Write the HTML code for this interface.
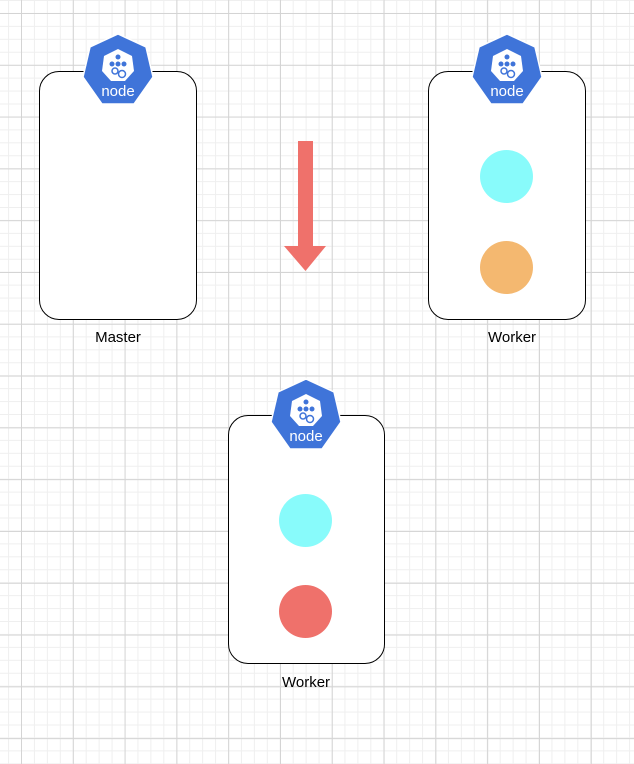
<!DOCTYPE html>
<html><head><style>
body{margin:0;width:634px;height:764px;overflow:hidden;background:#fff;font-family:"Liberation Sans",sans-serif;}
.g{position:absolute;left:0;top:0;width:634px;height:764px;
background-image:
linear-gradient(#d4d4d4 1px,transparent 1px),
linear-gradient(90deg,#d4d4d4 1px,transparent 1px),
linear-gradient(#efefef 1px,transparent 1px),
linear-gradient(90deg,#efefef 1px,transparent 1px);
background-size:51.8px 51.8px,51.8px 51.8px,12.95px 12.95px,12.95px 12.95px;
background-position:0 13px,21px 0,0 0px,21px 0;}
.box{position:absolute;border:1.5px solid #000;border-radius:20px;background:#fff;box-sizing:border-box;}
.c{position:absolute;width:53px;height:53px;border-radius:50%;}
.l{position:absolute;font-size:15px;width:100px;text-align:center;}
svg.i{position:absolute;}
</style></head><body>
<div class="g"></div>
<div class="box" style="left:39px;top:71px;width:158px;height:249px"></div>
<div class="box" style="left:428px;top:71px;width:158px;height:249px"></div>
<div class="box" style="left:228px;top:415px;width:157px;height:249px"></div>
<div class="c" style="left:480px;top:150px;background:#88fbfb"></div>
<div class="c" style="left:480px;top:241px;background:#f4b870"></div>
<div class="c" style="left:279px;top:494px;background:#88fbfb"></div>
<div class="c" style="left:279px;top:585px;background:#ef716b"></div>
<svg style="position:absolute;left:0;top:0" width="634" height="764">
<polygon points="298,141 313,141 313,246 326,246 305.5,271 284,246 298,246" fill="#ef716b"/>
</svg>
<svg class="i" style="left:81px;top:33px" width="74" height="75" viewBox="0 0 74 75">
<polygon points="37,1 65,14 72,44 53,71 21,71 2,44 9,14" fill="#3f74d9" stroke="#fff" stroke-width="1.5"/>
<polygon points="37,16 51,23 53,38 44,48 30,48 21,38 23,23" fill="#fff"/>
<circle cx="37" cy="24" r="2.5" fill="#3f74d9"/><circle cx="31" cy="31" r="2.5" fill="#3f74d9"/><circle cx="37" cy="31" r="2.5" fill="#3f74d9"/><circle cx="43" cy="31" r="2.5" fill="#3f74d9"/>
<circle cx="34" cy="38" r="3" fill="none" stroke="#3f74d9" stroke-width="1.5"/><circle cx="41" cy="41" r="3.5" fill="none" stroke="#3f74d9" stroke-width="1.5"/>
<text x="37" y="63" font-size="15" fill="#fff" text-anchor="middle" font-family="Liberation Sans">node</text>
</svg>
<svg class="i" style="left:470px;top:33px" width="74" height="75" viewBox="0 0 74 75">
<polygon points="37,1 65,14 72,44 53,71 21,71 2,44 9,14" fill="#3f74d9" stroke="#fff" stroke-width="1.5"/>
<polygon points="37,16 51,23 53,38 44,48 30,48 21,38 23,23" fill="#fff"/>
<circle cx="37" cy="24" r="2.5" fill="#3f74d9"/><circle cx="31" cy="31" r="2.5" fill="#3f74d9"/><circle cx="37" cy="31" r="2.5" fill="#3f74d9"/><circle cx="43" cy="31" r="2.5" fill="#3f74d9"/>
<circle cx="34" cy="38" r="3" fill="none" stroke="#3f74d9" stroke-width="1.5"/><circle cx="41" cy="41" r="3.5" fill="none" stroke="#3f74d9" stroke-width="1.5"/>
<text x="37" y="63" font-size="15" fill="#fff" text-anchor="middle" font-family="Liberation Sans">node</text>
</svg>
<svg class="i" style="left:269px;top:378px" width="74" height="75" viewBox="0 0 74 75">
<polygon points="37,1 65,14 72,44 53,71 21,71 2,44 9,14" fill="#3f74d9" stroke="#fff" stroke-width="1.5"/>
<polygon points="37,16 51,23 53,38 44,48 30,48 21,38 23,23" fill="#fff"/>
<circle cx="37" cy="24" r="2.5" fill="#3f74d9"/><circle cx="31" cy="31" r="2.5" fill="#3f74d9"/><circle cx="37" cy="31" r="2.5" fill="#3f74d9"/><circle cx="43" cy="31" r="2.5" fill="#3f74d9"/>
<circle cx="34" cy="38" r="3" fill="none" stroke="#3f74d9" stroke-width="1.5"/><circle cx="41" cy="41" r="3.5" fill="none" stroke="#3f74d9" stroke-width="1.5"/>
<text x="37" y="63" font-size="15" fill="#fff" text-anchor="middle" font-family="Liberation Sans">node</text>
</svg>
<div class="l" style="left:68px;top:329px">Master</div>
<div class="l" style="left:462px;top:329px">Worker</div>
<div class="l" style="left:256px;top:674px">Worker</div>
</body></html>
